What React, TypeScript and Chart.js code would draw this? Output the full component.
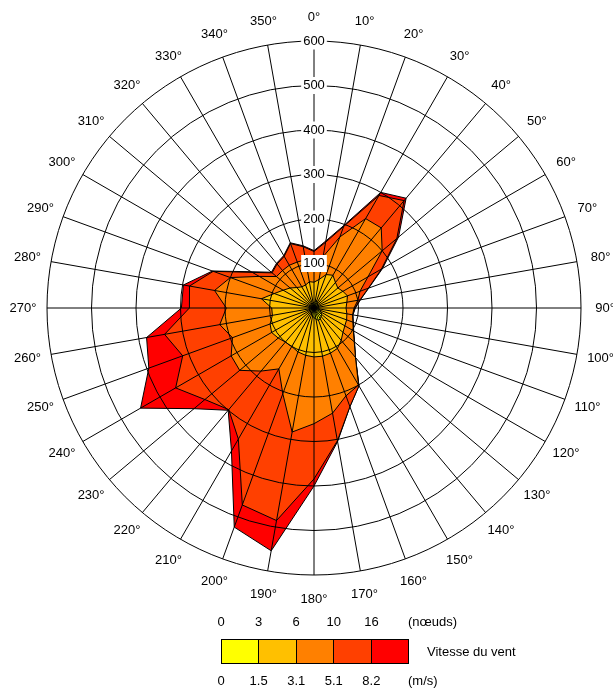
import React, { useEffect, useRef } from "react";
import { Chart, registerables } from "chart.js";

Chart.register(...registerables);

// Directions (degrees, clockwise from north)
const directions = [0, 10, 20, 30, 40, 50, 60, 70, 80, 90, 100, 110, 120, 130, 140, 150, 160, 170, 180, 190, 200, 210, 220, 230, 240, 250, 260, 270, 280, 290, 300, 310, 320, 330, 340, 350];
const directionLabels = directions.map((d) => `${d}°`);

// Cumulative outlines of each speed band
const upTo1_5 = [12, 15, 18, 14, 12, 10, 10, 12, 10, 10, 12, 15, 18, 22, 25, 28, 30, 25, 22, 18, 15, 12, 12, 10, 12, 12, 10, 10, 12, 10, 10, 8, 10, 12, 10, 12];
const upTo3_1 = [58, 65, 80, 85, 75, 70, 75, 80, 75, 72, 75, 78, 80, 85, 95, 105, 108, 110, 110, 108, 105, 100, 100, 105, 110, 105, 95, 95, 120, 95, 80, 70, 60, 55, 55, 60];
const upTo5_1 = [104, 117, 170, 232, 235, 200, 140, 110, 100, 90, 88, 93, 102, 118, 145, 200, 210, 240, 260, 283, 205, 158, 185, 218, 215, 195, 215, 197, 227, 200, 142, 110, 110, 111, 110, 110];
const upTo8_2 = [127, 150, 195, 292, 315, 243, 175, 130, 105, 92, 88, 93, 102, 118, 145, 202, 236, 303, 384, 485, 471, 340, 298, 320, 359, 314, 341, 280, 284, 241, 160, 123, 129, 134, 154, 140];
const above8_2 = [129, 153, 198, 300, 322, 248, 178, 131, 106, 93, 89, 94, 103, 119, 145, 202, 236, 305, 400, 554, 524, 371, 300, 352, 450, 395, 382, 298, 298, 243, 163, 125, 131, 136, 156, 142];

const bandColors = ["#FFFF00", "#FFC000", "#FF8000", "#FF4000", "#FF0000"];
const bandNames = ["0-1.5", "1.5-3.1", "3.1-5.1", "5.1-8.2", ">8.2"];
const knotLabels = ["0", "3", "6", "10", "16"];
const msLabels = ["0", "1.5", "3.1", "5.1", "8.2"];

const FONT = "'Liberation Sans', Arial, Helvetica, sans-serif";

// Direction labels centred on a circle just outside the outer ring
const centredPointLabels = {
  id: "centredPointLabels",
  afterDraw(chart: any) {
    const scale = chart.scales.r;
    const ctx = chart.ctx;
    ctx.save();
    ctx.font = `13px ${FONT}`;
    ctx.fillStyle = "#000";
    ctx.textAlign = "center";
    ctx.textBaseline = "middle";
    const labels = chart.data.labels as string[];
    labels.forEach((lab, i) => {
      const p = scale.getPointPosition(i, scale.drawingArea + 24);
      ctx.fillText(lab, p.x, p.y);
    });
    ctx.restore();
  },
};

export default function App() {
  const ref = useRef<HTMLCanvasElement | null>(null);

  useEffect(() => {
    if (!ref.current) return;
    const series = [upTo1_5, upTo3_1, upTo5_1, upTo8_2, above8_2];
    const chart = new Chart(ref.current, {
      type: "radar",
      data: {
        labels: directionLabels,
        datasets: series.map((d, i) => ({
          label: bandNames[i],
          data: d,
          backgroundColor: bandColors[i],
          borderColor: "#000",
          borderWidth: 1,
          pointRadius: 0,
          pointHoverRadius: 0,
          fill: "origin",
          tension: 0,
        })),
      },
      options: {
        animation: false,
        responsive: false,
        devicePixelRatio: 1,
        plugins: { legend: { display: false }, tooltip: { enabled: false } },
        layout: { padding: { left: 38, right: 23, top: 32, bottom: 36 } },
        scales: {
          r: {
            min: 0,
            max: 600,
            beginAtZero: true,
            grid: { circular: true, color: "#000", lineWidth: 1, z: 1 },
            angleLines: { display: true, color: "#000", lineWidth: 1 },
            pointLabels: { display: false },
            ticks: {
              stepSize: 100,
              color: "#000",
              z: 1,
              showLabelBackdrop: true,
              backdropColor: "#fff",
              backdropPadding: 2,
              font: { family: FONT, size: 13 },
            },
          },
        },
      },
      plugins: [centredPointLabels],
    });
    return () => chart.destroy();
  }, []);

  const boundaries = [221, 258.6, 296.2, 333.8, 371.4];
  const textStyle: React.CSSProperties = {
    position: "absolute",
    fontFamily: FONT,
    fontSize: 13,
    lineHeight: "15px",
    color: "#000",
    whiteSpace: "nowrap",
  };

  return (
    <div style={{ position: "fixed", left: 0, top: 0, width: "100vw", height: "100vh", overflow: "hidden", background: "#fff" }}>
      <canvas ref={ref} width={613} height={620} style={{ position: "absolute", left: 0, top: 0, width: 613, height: 620 }} />
      {knotLabels.map((t, i) => (
        <span key={"k" + i} style={{ ...textStyle, left: boundaries[i], top: 614, transform: "translateX(-50%)" }}>{t}</span>
      ))}
      <span style={{ ...textStyle, left: 408, top: 614 }}>(nœuds)</span>
      <div style={{ position: "absolute", left: 221, top: 639, width: 188, height: 25, boxSizing: "border-box", border: "1px solid #000", display: "flex" }}>
        {bandColors.map((c, i) => (
          <div key={"b" + i} style={{ flex: 1, background: c, borderLeft: i > 0 ? "1px solid #000" : "none" }} />
        ))}
      </div>
      <span style={{ ...textStyle, left: 427, top: 643.5 }}>Vitesse du vent</span>
      {msLabels.map((t, i) => (
        <span key={"m" + i} style={{ ...textStyle, left: boundaries[i], top: 672.5, transform: "translateX(-50%)" }}>{t}</span>
      ))}
      <span style={{ ...textStyle, left: 408, top: 672.5 }}>(m/s)</span>
    </div>
  );
}
